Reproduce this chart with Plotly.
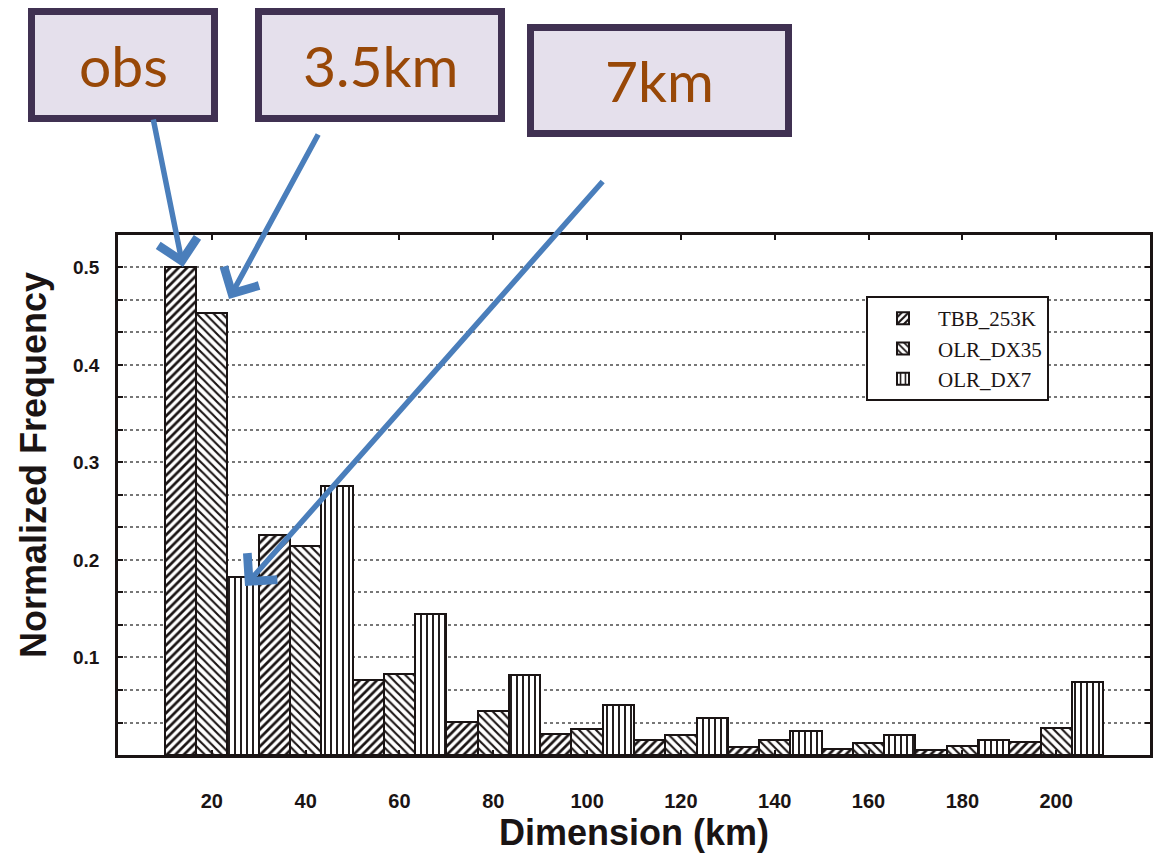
import plotly.graph_objects as go

# ---- data ----
dimension_km = [20, 40, 60, 80, 100, 120, 140, 160, 180, 200]
tbb_253k = [0.500, 0.226, 0.077, 0.034, 0.022, 0.015, 0.0085, 0.006, 0.005, 0.013]
olr_dx35 = [0.453, 0.214, 0.083, 0.045, 0.027, 0.021, 0.015, 0.012, 0.009, 0.028]
olr_dx7 = [0.183, 0.276, 0.145, 0.082, 0.051, 0.038, 0.025, 0.021, 0.015, 0.075]
series_names = ["TBB_253K", "OLR_DX35", "OLR_DX7"]
y_tick_vals = [0.1, 0.2, 0.3, 0.4, 0.5]
y_tick_text = ["0.1", "0.2", "0.3", "0.4", "0.5"]
box_labels = ["obs", "3.5km", "7km"]
x_title = "Dimension (km)"
y_title = "Normalized Frequency"

W, H = 1153, 867
ML, MR, MT, MB = 118, 3, 235, 112
PW, PH = W - ML - MR, H - MT - MB
X_RANGE = [0, 220]
Y_RANGE = [0, 0.5333]


def px_to_paper(px, py):
    return (px - ML) / PW, (H - MB - py) / PH


def px_to_data(px, py):
    return (X_RANGE[0] + (px - ML) / PW * (X_RANGE[1] - X_RANGE[0]),
            Y_RANGE[0] + (H - MB - py) / PH * (Y_RANGE[1] - Y_RANGE[0]))


patterns = [
    dict(shape="/", size=6, solidity=0.45),
    dict(shape="\\", size=6, solidity=0.35),
    dict(shape="|", size=6, solidity=0.32),
]

fig = go.Figure()
for name, vals, pat in zip(series_names, [tbb_253k, olr_dx35, olr_dx7], patterns):
    fig.add_trace(go.Bar(
        x=dimension_km, y=vals, name=name,
        marker=dict(color="white",
                    line=dict(color="#1a1414", width=2),
                    pattern=dict(fgcolor="#1a1414", bgcolor="white",
                                 fillmode="replace", **pat)),
    ))

axis_font = dict(family="Liberation Sans Narrow, Liberation Sans, Arial", size=20,
                 color="#1a1414", weight="bold")
title_font = dict(family="Liberation Sans Narrow, Liberation Sans, Arial",
                  size=36, color="#1a1414", weight="bold")

fig.update_layout(
    width=W, height=H,
    margin=dict(l=ML, r=MR, t=MT, b=MB, autoexpand=False),
    paper_bgcolor="white", plot_bgcolor="white",
    barmode="group", bargap=0, bargroupgap=0,
    showlegend=True,
    legend=dict(x=(866 - ML) / PW, y=(H - MB - 296) / PH, xanchor="left", yanchor="top",
                bordercolor="#1a1414", borderwidth=2, bgcolor="white",
                font=dict(family="Liberation Serif, DejaVu Serif", size=21, color="#1a1414"),
                tracegroupgap=2, itemsizing="constant", itemwidth=60),
    xaxis=dict(range=X_RANGE, tickvals=dimension_km, ticktext=[str(v) for v in dimension_km],
               ticks="inside", ticklen=5, tickwidth=2, tickcolor="#1a1414",
               showline=True, linecolor="#1a1414", linewidth=2.5, mirror="ticks",
               showgrid=False, zeroline=False, tickfont=axis_font,
               ticklabelstandoff=26,
               title=dict(text=x_title, standoff=10, font=title_font)),
    yaxis=dict(range=Y_RANGE, tickvals=y_tick_vals, ticktext=y_tick_text,
               ticks="inside", ticklen=5, tickwidth=2, tickcolor="#1a1414",
               showline=True, linecolor="#1a1414", linewidth=2.5, mirror="ticks",
               showgrid=True, gridcolor="#777777", gridwidth=1.5, griddash="dot",
               zeroline=False,
               minor=dict(dtick=1 / 30, tick0=0, showgrid=True, gridcolor="#777777",
                          gridwidth=1.5, griddash="dot", ticks="inside", ticklen=5,
                          tickwidth=2, tickcolor="#1a1414"),
               tickfont=dict(family="Liberation Sans, Arial", size=19, color="#1a1414",
                             weight="bold"),
               ticklabelstandoff=12),
)

# ---- label boxes (pixel positions of outer box edges) ----
boxes_px = [(28, 8, 218, 122), (255, 8, 505, 122), (527, 24, 792, 137)]
bw = 7
shapes = []
annotations = []
for label, (x0, y0, x1, y1) in zip(box_labels, boxes_px):
    px0, py0 = px_to_paper(x0 + bw / 2, y1 - bw / 2)
    px1, py1 = px_to_paper(x1 - bw / 2, y0 + bw / 2)
    shapes.append(dict(type="rect", xref="paper", yref="paper", x0=px0, y0=py0, x1=px1, y1=py1,
                       fillcolor="#e5e0ec", line=dict(color="#403152", width=bw), layer="above"))
    cx, cy = px_to_paper((x0 + x1) / 2, (y0 + y1) / 2)
    annotations.append(dict(xref="paper", yref="paper", x=cx, y=cy, text=label, showarrow=False,
                            xanchor="center", yanchor="middle",
                            font=dict(family="Lato, Open Sans, sans-serif", size=57,
                                      color="#984807")))

# y-axis title (placed slightly above the axis centre, as in the original)
tx, ty = px_to_paper(33, 465)
annotations.append(dict(xref="paper", yref="paper", x=tx, y=ty, text=y_title, textangle=-90,
                        showarrow=False, xanchor="center", yanchor="middle", font=title_font))

# ---- arrows (tail px, tip px) ----
arrows_px = [((153, 118), (183, 267)), ((319, 133), (229, 299)), ((604, 180), (245, 586))]
for (ax_px, ay_px), (hx, hy) in arrows_px:
    dx, dy = px_to_data(hx, hy)
    annotations.append(dict(xref="x", yref="y", x=dx, y=dy, ax=ax_px - hx, ay=ay_px - hy,
                            axref="pixel", ayref="pixel", text="", showarrow=True,
                            arrowhead=4, arrowsize=1.4, arrowwidth=5.5,
                            arrowcolor="#4a7ebb", standoff=0))

fig.update_layout(shapes=shapes, annotations=annotations)
fig.write_html("out.html", config={"displayModeBar": False},
               post_script="document.body.style.margin='0';document.body.style.overflow='hidden';")
